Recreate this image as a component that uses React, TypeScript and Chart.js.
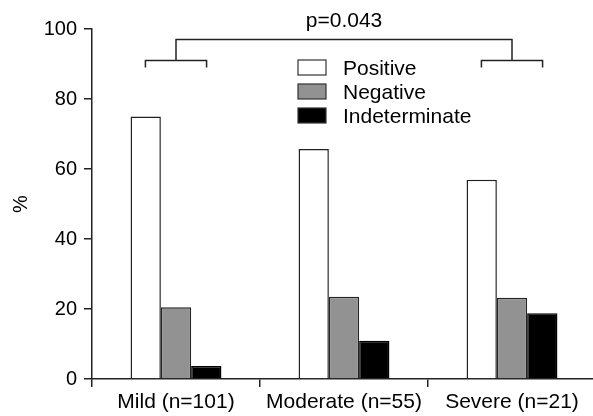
import React, { useEffect, useRef } from "react";
import { Chart, registerables } from "chart.js";

Chart.register(...registerables);

const categories = ["Mild (n=101)", "Moderate (n=55)", "Severe (n=21)"];
const seriesNames = ["Positive", "Negative", "Indeterminate"];
const positive = [75.0, 65.7, 56.9];
const negative = [20.5, 23.5, 23.2];
const indeterminate = [3.7, 10.9, 18.8];
const yTicks = [0, 20, 40, 60, 80, 100];
const pText = "p=0.043";

const FONT = "'Liberation Sans', Arial, Helvetica, sans-serif";
const INK = "#222";

const annotPlugin = {
  id: "annot",
  afterDraw(chart: any) {
    const { ctx, scales, chartArea } = chart;
    const x = scales.x;
    const y = scales.y;
    ctx.save();
    ctx.strokeStyle = INK;
    ctx.lineWidth = 1.5;
    const cw = x.getPixelForValue(1) - x.getPixelForValue(0);
    const half = cw * 0.182;
    const yTop = y.getPixelForValue(97);
    const yMid = y.getPixelForValue(91);
    const yLeg = y.getPixelForValue(89);
    const c0 = x.getPixelForValue(0);
    const c2 = x.getPixelForValue(2);
    ctx.beginPath();
    ctx.moveTo(c0, yMid);
    ctx.lineTo(c0, yTop);
    ctx.lineTo(c2, yTop);
    ctx.lineTo(c2, yMid);
    for (const c of [c0, c2]) {
      ctx.moveTo(c - half, yLeg);
      ctx.lineTo(c - half, yMid);
      ctx.lineTo(c + half, yMid);
      ctx.lineTo(c + half, yLeg);
    }
    ctx.stroke();

    ctx.fillStyle = "#000";
    ctx.font = `21px ${FONT}`;
    ctx.textAlign = "center";
    ctx.textBaseline = "alphabetic";
    ctx.fillText(pText, (c0 + c2) / 2, y.getPixelForValue(100.6));

    // legend
    const ds = chart.data.datasets;
    const boxL = chartArea.left + 206;
    const boxW = 28;
    const boxH = 15;
    ctx.textAlign = "left";
    ctx.textBaseline = "middle";
    ds.forEach((d: any, i: number) => {
      const top = 60 + i * 24;
      ctx.fillStyle = d.backgroundColor;
      ctx.fillRect(boxL, top, boxW, boxH);
      ctx.lineWidth = 1.2;
      ctx.strokeStyle = "#333";
      ctx.strokeRect(boxL, top, boxW, boxH);
      ctx.fillStyle = "#000";
      ctx.fillText(d.label, boxL + 45, top + 9.5);
    });
    ctx.restore();
  },
};

export default function App() {
  const ref = useRef<HTMLCanvasElement>(null);
  useEffect(() => {
    document.body.style.margin = "0";
    document.body.style.overflow = "hidden";
    const cv = ref.current!;
    const chart = new Chart(cv, {
      type: "bar",
      data: {
        labels: categories,
        datasets: [
          { label: seriesNames[0], data: positive, backgroundColor: "#ffffff", borderColor: INK, borderWidth: 1.5 },
          { label: seriesNames[1], data: negative, backgroundColor: "#929292", borderColor: INK, borderWidth: 1.5 },
          { label: seriesNames[2], data: indeterminate, backgroundColor: "#000000", borderColor: "#000", borderWidth: 1.5 },
        ],
      },
      options: {
        responsive: false,
        animation: false,
        layout: { padding: { left: 0, top: 29, right: 4, bottom: 0 } },
        datasets: { bar: { categoryPercentage: 0.541, barPercentage: 1.0 } },
        plugins: { legend: { display: false }, tooltip: { enabled: false } },
        scales: {
          x: {
            offset: true,
            grid: { drawOnChartArea: false, drawTicks: true, tickLength: 8, color: INK, lineWidth: 1.5, offset: true },
            border: { display: true, color: INK, width: 1.5 },
            ticks: { color: "#000", font: { family: FONT, size: 21 }, padding: 3, maxRotation: 0, autoSkip: false },
            afterFit: (s: any) => { s.height = 37; },
          },
          y: {
            min: 0,
            max: 100,
            afterBuildTicks: (s: any) => { s.ticks = yTicks.map((v) => ({ value: v })); },
            grid: { drawOnChartArea: false, drawTicks: true, tickLength: 8, color: INK, lineWidth: 1.5 },
            border: { display: true, color: INK, width: 1.5 },
            ticks: { color: "#000", font: { family: FONT, size: 20 }, padding: 7 },
            title: { display: true, text: "%", color: "#000", font: { family: FONT, size: 20 }, padding: { top: 9, bottom: 0 } },
            afterFit: (s: any) => { s.width = 92; },
          },
        },
      },
      plugins: [annotPlugin],
    });
    return () => chart.destroy();
  }, []);
  return (
    <div style={{ width: 593, height: 416, overflow: "hidden" }}>
      <canvas ref={ref} width={600} height={416} style={{ display: "block" }} />
    </div>
  );
}
